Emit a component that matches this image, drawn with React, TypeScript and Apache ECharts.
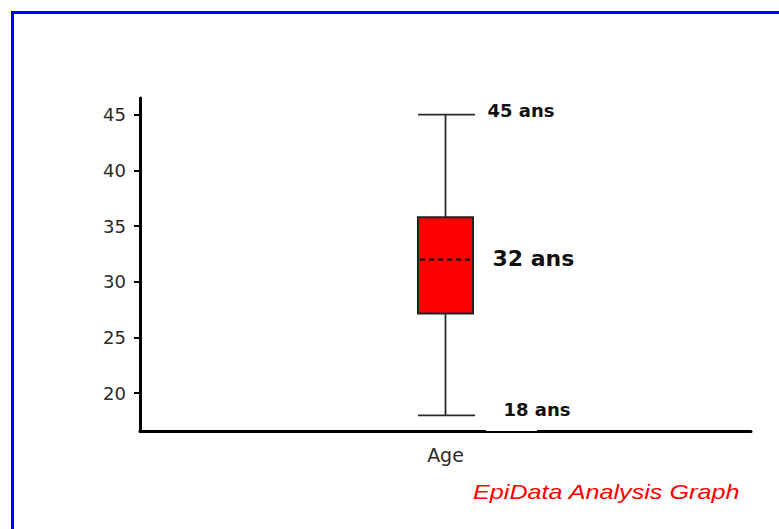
import React, { useEffect, useRef } from "react";
import * as echarts from "echarts";

const categories = ["Age"];
// [categoryIndex, min, Q1, median, Q3, max]
const boxValues = [[0, 18, 27.15, 32, 35.8, 45]];
const yTicks = [20, 25, 30, 35, 40, 45];
const unit = "ans";
const footerText = "EpiData Analysis Graph";

export default function App() {
  const ref = useRef<HTMLDivElement>(null);
  useEffect(() => {
    document.body.style.margin = "0";
    const chart = echarts.init(ref.current!, null, { renderer: "svg" });
    chart.setOption({
      animation: false,
      backgroundColor: "#ffffff",
      grid: { left: 140, right: 28, top: 98, bottom: 98 },
      xAxis: {
        type: "category",
        data: categories,
        axisLine: { lineStyle: { color: "#000", width: 3 } },
        axisTick: { alignWithLabel: true, length: 8, lineStyle: { color: "#000", width: 2 } },
        axisLabel: { color: "#2a2a2a", fontFamily: "DejaVu Sans", fontSize: 19, margin: 14 },
        splitLine: { show: false },
      },
      yAxis: {
        type: "value",
        min: 16.6,
        max: 46.5,
        axisLine: { show: true, lineStyle: { color: "#000", width: 3 } },
        axisTick: { show: true, length: 6, customValues: yTicks, lineStyle: { color: "#000", width: 2 } },
        axisLabel: { color: "#2a2a2a", fontFamily: "DejaVu Sans", fontSize: 18, margin: 14, customValues: yTicks },
        splitLine: { show: false },
      },
      graphic: [
        {
          type: "rect",
          shape: { x: 12.5, y: 12.5, width: 820, height: 600 },
          style: { fill: "none", stroke: "#0000ff", lineWidth: 3 },
          z: 100,
        },
        {
          type: "rect",
          shape: { x: 486, y: 428.5, width: 51, height: 2.5 },
          style: { fill: "#ffffff" },
          z: 100,
        },
        {
          type: "text",
          x: 473,
          y: 492,
          scaleX: 1.26,
          style: {
            text: footerText,
            fill: "#ff0000",
            font: "italic 20px 'Liberation Sans'",
            verticalAlign: "middle",
            align: "left",
          },
          z: 100,
        },
      ],
      series: [
        {
          type: "custom",
          data: boxValues,
          renderItem: (params: any, api: any) => {
            const x = api.value(0);
            const vMin = api.value(1);
            const vQ1 = api.value(2);
            const vMed = api.value(3);
            const vQ3 = api.value(4);
            const vMax = api.value(5);
            const pMin = api.coord([x, vMin]);
            const pQ1 = api.coord([x, vQ1]);
            const pMed = api.coord([x, vMed]);
            const pQ3 = api.coord([x, vQ3]);
            const pMax = api.coord([x, vMax]);
            const bandW = api.size([1, 0])[0];
            const half = bandW * 0.045;
            const cx = pMed[0];
            const lineStyle = { stroke: "#2a2a2a", lineWidth: 1.8 };
            const textFill = "#111";
            return {
              type: "group",
              children: [
                { type: "line", shape: { x1: cx, y1: pMax[1], x2: cx, y2: pMin[1] }, style: lineStyle },
                { type: "line", shape: { x1: cx - half, y1: pMax[1], x2: cx + half + 2, y2: pMax[1] }, style: lineStyle },
                { type: "line", shape: { x1: cx - half, y1: pMin[1], x2: cx + half + 2, y2: pMin[1] }, style: lineStyle },
                {
                  type: "rect",
                  shape: { x: cx - half, y: pQ3[1], width: half * 2, height: pQ1[1] - pQ3[1] },
                  style: { fill: "#ff0000", stroke: "#222", lineWidth: 2 },
                },
                {
                  type: "line",
                  shape: { x1: cx - half + 2, y1: pMed[1], x2: cx + half, y2: pMed[1] },
                  style: { stroke: "#000", lineWidth: 1.8, lineDash: [5, 4] },
                },
                {
                  type: "text",
                  x: cx + 42,
                  y: pMax[1] - 4,
                  style: { text: `${vMax} ${unit}`, fill: textFill, font: "bold 18px 'DejaVu Sans'", verticalAlign: "middle" },
                },
                {
                  type: "text",
                  x: cx + 47,
                  y: pMed[1] - 1,
                  style: { text: `${vMed} ${unit}`, fill: textFill, font: "bold 22px 'DejaVu Sans'", verticalAlign: "middle" },
                },
                {
                  type: "text",
                  x: cx + 58,
                  y: pMin[1] - 6,
                  style: { text: `${vMin} ${unit}`, fill: textFill, font: "bold 18px 'DejaVu Sans'", verticalAlign: "middle" },
                },
              ],
            };
          },
        },
      ],
    });
    return () => chart.dispose();
  }, []);
  return <div ref={ref} style={{ width: 779, height: 529 }} />;
}
